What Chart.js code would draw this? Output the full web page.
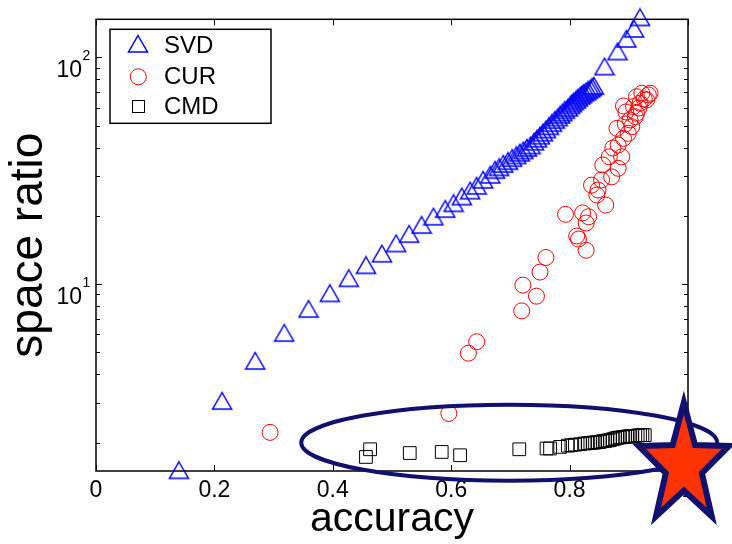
<!DOCTYPE html>
<html>
<head>
<meta charset="utf-8">
<script src="https://cdn.jsdelivr.net/npm/chart.js@4.4.0/dist/chart.umd.min.js"></script>
<style>
  html, body { margin: 0; padding: 0; background: #fff; }
  #c { display: block; }
</style>
</head>
<body>
<canvas id="c" width="732" height="544"></canvas>
<script>
// ---------- data ----------
const seriesNames = ['SVD', 'CUR', 'CMD'];

const svdAccuracy = [0.140,0.213,0.269,0.318,0.359,0.395,0.427,0.456,0.483,0.507,0.529,0.550,0.570,0.590,0.604,0.618,0.632,0.643,0.654,0.666,0.674,
  0.681,0.688,0.696,0.703,0.710,0.716,0.722,0.728,0.734,
  0.740,0.745,0.750,0.755,0.760,0.765,0.770,0.775,0.780,0.784,
  0.788,0.792,0.797,0.801,0.804,0.807,0.811,0.814,0.818,
  0.821,0.824,0.828,0.831,0.835,0.838,0.841,
  0.859,0.881,0.896,0.909,0.919];
const svdRatio = [1.51,3.05,4.58,6.08,7.76,9.10,10.6,12.1,13.6,15.1,16.6,18.2,19.8,21.4,22.7,24.3,25.8,27.1,28.8,30.3,31.8,
  32.7,33.8,34.8,35.9,36.9,37.9,38.8,39.8,40.8,
  42.4,43.7,45.1,46.5,48.0,49.6,51.2,52.8,54.2,55.7,
  57.0,58.4,59.8,61.3,62.5,63.7,64.9,66.2,67.5,
  68.5,69.5,70.5,71.5,72.6,73.7,74.7,
  90.9,105.9,120.4,133.3,149.8];

const curAccuracy = [0.294,0.596,0.629,0.643,0.719,0.744,0.721,0.750,0.760,0.793,0.822,0.828,0.812,0.815,0.828,0.861,0.832,0.846,0.837,0.854,0.871,0.882,0.867,0.888,0.882,0.891,0.899,0.880,0.905,0.902,0.911,0.891,0.913,0.908,0.919,0.913,0.922,0.933,0.930,0.936,0.926,0.917,0.895,0.894,0.873,0.856,0.848];
const curRatio    = [2.22,2.69,4.96,5.57,7.62,8.85,9.90,11.3,13.1,20.3,20.6,18.6,16.3,15.8,14.1,22.3,19.8,24.7,27.3,28.8,29.7,32.4,36.4,36.4,41.0,43.9,46.2,48.6,49.4,52.9,54.7,61.0,56.6,60.6,62.7,67.0,69.4,68.2,64.8,69.4,65.5,59.8,57.4,50.8,39.8,33.5,26.0];

const cmdAccuracy = [0.456,0.463,0.530,0.584,0.615,0.715,0.761,0.767,0.784,0.797,0.803,0.809,0.818,0.826,0.831,0.835,0.839,0.843,0.847,0.851,0.856,0.860,0.864,0.868,0.873,0.877,0.881,0.885,0.890,0.894,0.898,0.902,0.906,0.911,0.915,0.919,0.923,0.927];
const cmdRatio    = [1.73,1.87,1.80,1.82,1.76,1.87,1.885,1.885,1.916,1.94,1.949,1.96,1.969,1.983,1.99,1.995,2.0,2.003,2.01,2.015,2.03,2.036,2.045,2.051,2.07,2.086,2.10,2.108,2.115,2.121,2.13,2.136,2.14,2.142,2.15,2.158,2.16,2.158];

const xTickValues = [0, 0.2, 0.4, 0.6, 0.8, 1];
const xTickLabels = ['0', '0.2', '0.4', '0.6', '0.8', '1'];
const yMajorTicks = [10, 100];
const yMajorExponents = ['1', '2'];
const yMinorTicks = [2,3,4,5,6,7,8,9,20,30,40,50,60,70,80,90];

// annotation anchors (data coordinates)
const ellipseCenter = { x: 0.698, y: 2.0 };
const starCenter = { x: 0.993, y: 1.587 };

// ---------- styles ----------
const FONT = '"Liberation Sans", Arial, Helvetica, sans-serif';
const NAVY = '#10106e';

function makeTriangle(color) {
  const cv = document.createElement('canvas');
  cv.width = 22; cv.height = 20;
  const g = cv.getContext('2d');
  g.strokeStyle = color; g.lineWidth = 1.5;
  g.beginPath();
  g.moveTo(11, 1.5); g.lineTo(20.5, 18); g.lineTo(1.5, 18); g.closePath();
  g.stroke();
  return cv;
}
const triImg = makeTriangle('#0000ff');

const pts = (xs, ys) => xs.map((v, i) => ({ x: v, y: ys[i] }));

// ---------- plugins ----------
const framePlugin = {
  id: 'frame',
  beforeDatasetsDraw(chart) {
    const { ctx, chartArea: a, scales: { x, y } } = chart;
    ctx.save();
    ctx.strokeStyle = '#000';
    ctx.lineWidth = 1.5;
    ctx.strokeRect(a.left, a.top, a.right - a.left, a.bottom - a.top);
    ctx.lineWidth = 1;
    ctx.beginPath();
    xTickValues.forEach(v => {
      const px = Math.round(x.getPixelForValue(v)) + 0.5;
      ctx.moveTo(px, a.bottom); ctx.lineTo(px, a.bottom - 6);
      ctx.moveTo(px, a.top); ctx.lineTo(px, a.top + 6);
    });
    yMajorTicks.forEach(v => {
      const py = Math.round(y.getPixelForValue(v)) + 0.5;
      ctx.moveTo(a.left, py); ctx.lineTo(a.left + 6, py);
      ctx.moveTo(a.right, py); ctx.lineTo(a.right - 6, py);
    });
    yMinorTicks.forEach(v => {
      const py = Math.round(y.getPixelForValue(v)) + 0.5;
      ctx.moveTo(a.left, py); ctx.lineTo(a.left + 4, py);
      ctx.moveTo(a.right, py); ctx.lineTo(a.right - 4, py);
    });
    ctx.stroke();
    // y tick labels 10^n
    ctx.fillStyle = '#000';
    ctx.textBaseline = 'alphabetic';
    yMajorTicks.forEach((v, i) => {
      const py = y.getPixelForValue(v);
      ctx.font = '23px ' + FONT;
      ctx.textAlign = 'right';
      ctx.fillText('10', a.left - 14, py + 19.7);
      ctx.font = '14px ' + FONT;
      ctx.textAlign = 'left';
      ctx.fillText(yMajorExponents[i], a.left - 13.5, py + 2.7);
    });
    ctx.restore();
  }
};

const legendPlugin = {
  id: 'boxLegend',
  afterDatasetsDraw(chart) {
    const { ctx, chartArea: a } = chart;
    const bx = a.left + 14, by = a.top + 10, bw = 161, bh = 94;
    ctx.save();
    ctx.fillStyle = '#fff';
    ctx.fillRect(bx, by, bw, bh);
    ctx.strokeStyle = '#000';
    ctx.lineWidth = 1.5;
    ctx.strokeRect(bx, by, bw, bh);
    const rows = [by + 17.5, by + 48.5, by + 78];
    const mx = bx + 28.3;
    // SVD marker
    ctx.drawImage(triImg, Math.round(mx - 11), Math.round(rows[0] - 12.5));
    // CUR marker
    ctx.strokeStyle = '#ff0000'; ctx.lineWidth = 1;
    ctx.beginPath(); ctx.arc(mx, rows[1] - 1, 8, 0, Math.PI * 2); ctx.stroke();
    // CMD marker
    ctx.strokeStyle = '#000';
    ctx.strokeRect(Math.round(mx - 6.3) + 0.5, Math.round(rows[2] - 7.3) + 0.5, 12, 12);
    ctx.fillStyle = '#000';
    ctx.font = '24px ' + FONT;
    ctx.textAlign = 'left';
    ctx.textBaseline = 'middle';
    seriesNames.forEach((n, i) => ctx.fillText(n, bx + 54, rows[i]));
    ctx.restore();
  }
};

const annotationPlugin = {
  id: 'annot',
  afterDraw(chart) {
    const { ctx, scales: { x, y } } = chart;
    ctx.save();
    // ellipse
    const ex = x.getPixelForValue(ellipseCenter.x), ey = y.getPixelForValue(ellipseCenter.y);
    ctx.strokeStyle = NAVY;
    ctx.lineWidth = 4;
    ctx.beginPath();
    ctx.ellipse(ex, ey, 208, 38, 0, 0, Math.PI * 2);
    ctx.stroke();
    // star
    const sx = x.getPixelForValue(starCenter.x), sy = y.getPixelForValue(starCenter.y);
    const Rx = 47.5, Ry = 63, rin = 0.40;
    ctx.beginPath();
    for (let k = 0; k < 10; k++) {
      const ang = k * Math.PI / 5;
      const r = (k % 2 === 0) ? 1 : rin;
      const px = sx + Math.sin(ang) * Rx * r;
      const py = sy - Math.cos(ang) * Ry * r;
      if (k === 0) ctx.moveTo(px, py); else ctx.lineTo(px, py);
    }
    ctx.closePath();
    ctx.fillStyle = '#ff3300';
    ctx.fill();
    ctx.lineJoin = 'miter';
    ctx.miterLimit = 10;
    ctx.lineWidth = 6;
    ctx.strokeStyle = NAVY;
    ctx.stroke();
    ctx.restore();
  }
};

// ---------- chart ----------
new Chart(document.getElementById('c'), {
  type: 'scatter',
  data: {
    datasets: [
      { label: seriesNames[0], data: pts(svdAccuracy, svdRatio), pointStyle: triImg, pointRadius: 10,
        borderColor: '#0000ff', backgroundColor: 'rgba(0,0,0,0)', clip: false },
      { label: seriesNames[1], data: pts(curAccuracy, curRatio), pointStyle: 'circle', pointRadius: 8,
        borderColor: '#ff0000', backgroundColor: 'rgba(0,0,0,0)', borderWidth: 1, clip: false },
      { label: seriesNames[2], data: pts(cmdAccuracy, cmdRatio), pointStyle: 'rect', pointRadius: 9,
        borderColor: '#000000', backgroundColor: 'rgba(0,0,0,0)', borderWidth: 1, clip: false }
    ]
  },
  options: {
    responsive: false,
    animation: false,
    devicePixelRatio: 1,
    events: [],
    layout: { padding: { top: 19.3, right: 44, left: 0, bottom: 0 } },
    plugins: { legend: { display: false }, tooltip: { enabled: false } },
    scales: {
      x: {
        type: 'linear', min: 0, max: 1,
        afterBuildTicks: s => { s.ticks = xTickValues.map(v => ({ value: v })); },
        afterFit: s => { s.height = 73; },
        grid: { display: false, drawTicks: false },
        border: { display: false },
        ticks: { color: '#000', font: { family: FONT, size: 23 }, padding: 6,
                 maxRotation: 0, autoSkip: false,
                 callback: (v, i) => xTickLabels[i] },
        title: { display: true, text: 'accuracy', color: '#000',
                 font: { family: FONT, size: 41 }, padding: { top: 0, bottom: 0 } }
      },
      y: {
        type: 'logarithmic', min: 1.5, max: 147,
        afterFit: s => { s.width = 96; },
        grid: { display: false, drawTicks: false },
        border: { display: false },
        ticks: { display: false },
        title: { display: true, text: 'space ratio', color: '#000',
                 font: { family: FONT, size: 46 }, padding: { top: 1.5, bottom: 0 } }
      }
    }
  },
  plugins: [framePlugin, legendPlugin, annotationPlugin]
});
</script>
</body>
</html>
